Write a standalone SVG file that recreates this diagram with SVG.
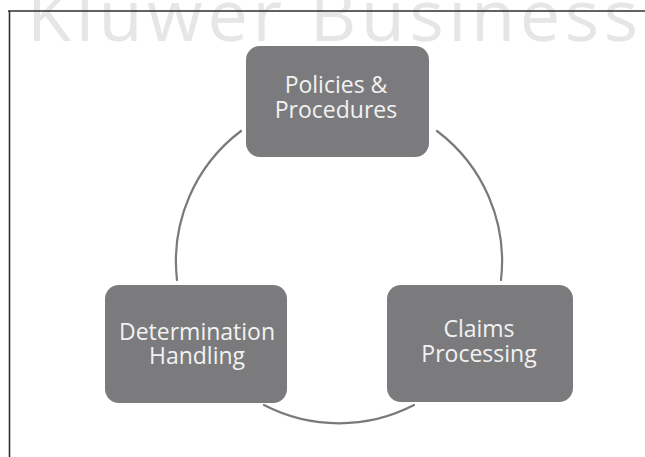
<svg xmlns="http://www.w3.org/2000/svg" width="645" height="457" viewBox="0 0 645 457">
  <style>
    .box { fill: #7b7b7d; }
    .label { font-family: "Open Sans", "Noto Sans", sans-serif; font-size: 23px; fill: #f2f2f2; text-anchor: middle; }
    .arc { fill: none; stroke: #7a7a7a; stroke-width: 2.2; stroke-linecap: round; }
    .mark { font-family: "Open Sans", "Noto Sans", sans-serif; font-size: 72px; fill: #e6e6e6; }
  </style>

  <rect width="645" height="457" fill="#ffffff"/>

  <!-- watermark -->
  <text class="mark" x="27" y="41" textLength="611" lengthAdjust="spacing">Kluwer Business</text>

  <!-- frame -->
  <g id="frame" stroke="#2e2e2e" stroke-width="1.6" fill="none">
    <line x1="8" y1="11" x2="645" y2="11"/>
    <line x1="9.5" y1="11" x2="9.5" y2="457"/>
  </g>

  <!-- cycle connectors -->
  <g id="connectors">
    <path class="arc" d="M 241 131 A 163 163 0 0 0 177 280"/>
    <path class="arc" d="M 437 131 A 163 163 0 0 1 501 280"/>
    <path class="arc" d="M 264 405 A 163 163 0 0 0 414 405"/>
  </g>

  <g id="policies">
    <rect class="box" x="246" y="46" width="183" height="111" rx="14"/>
    <text class="label"><tspan x="336" y="93">Policies &amp;</tspan><tspan x="336" y="118">Procedures</tspan></text>
  </g>

  <g id="determination">
    <rect class="box" x="105" y="285" width="182" height="118" rx="14"/>
    <text class="label"><tspan x="197" y="340">Determination</tspan><tspan x="197" y="364">Handling</tspan></text>
  </g>

  <g id="claims">
    <rect class="box" x="387" y="285" width="186" height="117" rx="14"/>
    <text class="label"><tspan x="479" y="337">Claims</tspan><tspan x="479" y="362">Processing</tspan></text>
  </g>
</svg>
